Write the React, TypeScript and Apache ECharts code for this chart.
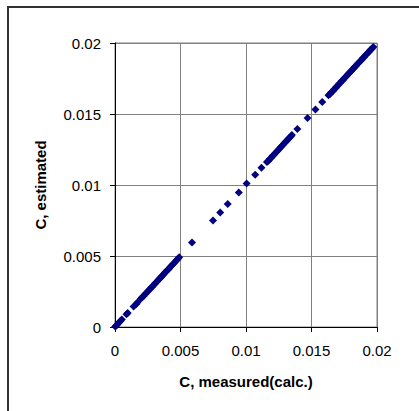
import React, { useEffect, useRef } from "react";
import * as echarts from "echarts";

const xTicks = [0, 0.005, 0.01, 0.015, 0.02];
const yTicks = [0, 0.005, 0.01, 0.015, 0.02];

const measured = [
  0.00002, 0.0001, 0.00018, 0.00027, 0.00041, 0.00052, 0.00088, 0.00097, 0.00142, 0.00163,
  0.00171, 0.00198, 0.00206, 0.00219, 0.00231, 0.0024, 0.00252, 0.00261, 0.0027, 0.00283,
  0.00291, 0.00302, 0.0031, 0.00322, 0.00333, 0.00341, 0.00352, 0.0036, 0.00371, 0.00382,
  0.0039, 0.00401, 0.00412, 0.0042, 0.00431, 0.0044, 0.00452, 0.00461, 0.0047, 0.00481,
  0.0049,
  0.00588, 0.00748, 0.00803, 0.0086, 0.00945, 0.01005, 0.0107, 0.01118,
  0.0116, 0.01172, 0.01181, 0.01193, 0.01202, 0.01211, 0.01222, 0.01233, 0.01241, 0.01252,
  0.01263, 0.0127, 0.01282, 0.01293, 0.01301, 0.01312, 0.0132, 0.01331, 0.01342, 0.0135,
  0.01392, 0.0147, 0.0153, 0.01582,
  0.0163, 0.01641, 0.0165, 0.01662, 0.01671, 0.01683, 0.0169, 0.01702, 0.01711, 0.01722,
  0.0173, 0.01741, 0.01752, 0.0176, 0.01772, 0.01781, 0.0179, 0.01802, 0.01811, 0.01822,
  0.0183, 0.01841, 0.01852, 0.0186, 0.01871, 0.01882, 0.0189, 0.01901, 0.01912, 0.0192,
  0.01931, 0.01942, 0.0195, 0.01961, 0.01972,
];

const estimated = [
  0.00003, 0.00011, 0.00017, 0.00028, 0.00043, 0.00053, 0.0009, 0.00098, 0.00145, 0.00162,
  0.00173, 0.002, 0.00207, 0.00218, 0.00233, 0.00241, 0.00251, 0.00262, 0.00272, 0.00282,
  0.00293, 0.00301, 0.00312, 0.00321, 0.00334, 0.00342, 0.00351, 0.00362, 0.0037, 0.00383,
  0.00391, 0.00402, 0.0041, 0.00421, 0.00432, 0.00441, 0.00451, 0.00462, 0.00472, 0.0048,
  0.00492,
  0.00595, 0.0075, 0.00807, 0.00867, 0.00948, 0.0101, 0.01072, 0.01122,
  0.01162, 0.01171, 0.01183, 0.01192, 0.01204, 0.01212, 0.01221, 0.01235, 0.01242, 0.01251,
  0.01265, 0.01271, 0.01281, 0.01295, 0.01302, 0.01311, 0.01322, 0.01332, 0.01341, 0.01352,
  0.01395, 0.01472, 0.01532, 0.01585,
  0.01632, 0.0164, 0.01652, 0.01661, 0.01673, 0.01682, 0.01692, 0.01701, 0.01713, 0.01721,
  0.01732, 0.0174, 0.01753, 0.01761, 0.01771, 0.01783, 0.01791, 0.01801, 0.01813, 0.01821,
  0.01832, 0.0184, 0.01853, 0.01861, 0.01872, 0.01881, 0.01892, 0.019, 0.01913, 0.01921,
  0.01932, 0.01941, 0.01952, 0.0196, 0.01972,
];

const xTitle = "C, measured(calc.)";
const yTitle = "C, estimated";

const fmt = (v: number) => String(+Number(v).toFixed(3));

export default function App() {
  const ref = useRef<HTMLDivElement>(null);
  useEffect(() => {
    if (!ref.current) return;
    const chart = echarts.init(ref.current, null, { renderer: "svg" });
    const font = "'Liberation Sans', Arial, sans-serif";
    const axisCommon = {
      type: "value" as const,
      min: xTicks[0],
      max: xTicks[xTicks.length - 1],
      interval: xTicks[1] - xTicks[0],
      axisLine: { show: true, onZero: false, lineStyle: { color: "#000", width: 1 } },
      axisTick: { show: true, inside: false, length: 5, lineStyle: { color: "#000", width: 1 } },
      splitLine: { show: true, lineStyle: { color: "#808080", width: 1 } },
      nameLocation: "middle" as const,
      nameTextStyle: { fontFamily: font, fontSize: 15, fontWeight: "bold" as const, color: "#000" },
    };
    chart.setOption({
      animation: false,
      backgroundColor: "#fff",
      grid: { left: 115, top: 43, right: 42, bottom: 84, containLabel: false, show: true, borderColor: "#808080", borderWidth: 1, backgroundColor: "transparent" },
      graphic: [
        {
          type: "rect",
          shape: { x: 8, y: 7, width: 600, height: 600 },
          style: { fill: "none", stroke: "#333", lineWidth: 2 },
          silent: true,
        },
      ],
      xAxis: {
        ...axisCommon,
        name: xTitle,
        nameGap: 47,
        axisLabel: { fontFamily: font, fontSize: 15, color: "#000", margin: 16, formatter: fmt },
      },
      yAxis: {
        ...axisCommon,
        min: yTicks[0],
        max: yTicks[yTicks.length - 1],
        interval: yTicks[1] - yTicks[0],
        name: yTitle,
        nameGap: 67,
        axisLabel: { fontFamily: font, fontSize: 15, color: "#000", margin: 14, formatter: fmt },
      },
      series: [
        {
          type: "scatter",
          data: measured.map((m, i) => [m, estimated[i]]),
          symbol: "diamond",
          symbolSize: 8,
          itemStyle: { color: "#000080", opacity: 1 },
        },
      ],
    });
    return () => chart.dispose();
  }, []);
  return <div ref={ref} style={{ position: "absolute", left: 0, top: 0, width: 419, height: 411 }} />;
}
